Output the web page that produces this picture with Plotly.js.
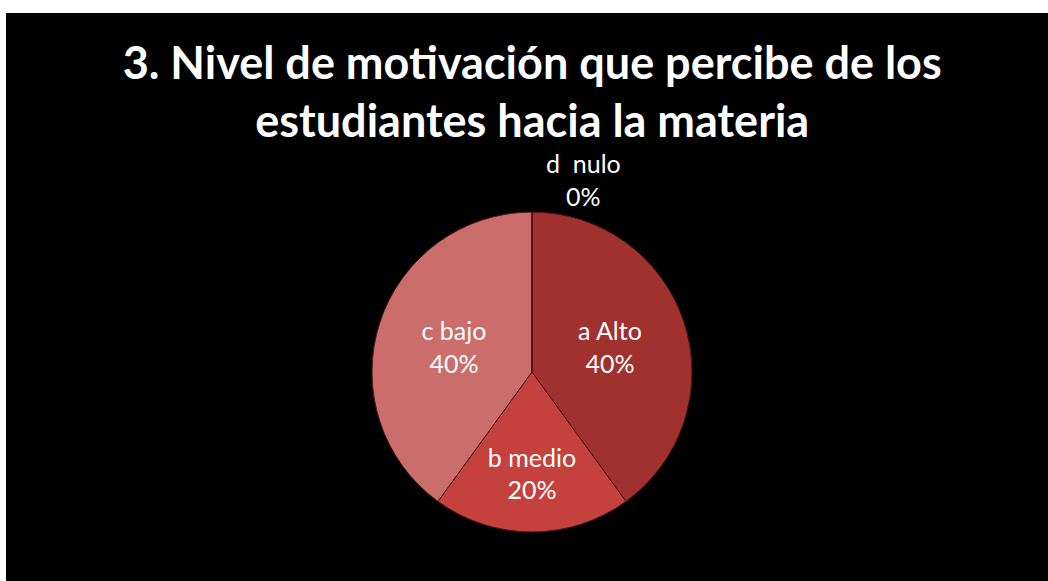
<!DOCTYPE html>
<html>
<head>
<meta charset="utf-8">
<script src="https://cdn.plot.ly/plotly-3.0.1.min.js"></script>
<style>
  html, body { margin: 0; padding: 0; background: #ffffff; width: 1048px; height: 581px; overflow: hidden; }
  #chart { position: absolute; left: 6px; top: 13px; width: 1042px; height: 568px; }
</style>
</head>
<body>
<div id="chart"></div>
<script>
const chartTitle = "3. Nivel de motivación que percibe de los<br>estudiantes hacia la materia";
const categories = ["a Alto", "b medio", "c bajo", "d  nulo"];
const values = [40, 20, 40, 0];
const sliceColors = ["#a0312e", "#c4413d", "#cb6d6b", "#d98a88"];
const textPositions = ["inside", "inside", "inside", "none"];

const total = values.reduce((a, b) => a + b, 0);
const labelFont = { family: "Lato, 'Open Sans', sans-serif", size: 25, color: "#ffffff" };

const trace = {
  type: "pie",
  labels: categories,
  values: values,
  sort: false,
  direction: "clockwise",
  rotation: 0,
  marker: { colors: sliceColors, line: { color: "#4a1414", width: 1 } },
  texttemplate: "%{label}<br>%{percent:.0%}",
  textposition: textPositions,
  insidetextorientation: "horizontal",
  textfont: labelFont,
  showlegend: false,
  hoverinfo: "label+percent",
  domain: { x: [0.3512, 0.6583], y: [0.0863, 0.6496] }
};

// the zero-value slice has no area, so its label sits above the pie as in the reference
const zeroAnnotations = categories
  .map((c, i) => ({ c, v: values[i] }))
  .filter(d => d.v === 0)
  .map(d => ({
    text: d.c + "<br>" + Math.round(100 * d.v / total) + "%",
    xref: "paper", yref: "paper",
    x: 0.5547, y: 0.706,
    xanchor: "center", yanchor: "middle",
    showarrow: false,
    font: labelFont
  }));

const layout = {
  width: 1042,
  height: 568,
  paper_bgcolor: "#000000",
  plot_bgcolor: "#000000",
  margin: { l: 0, r: 0, t: 0, b: 0 },
  title: {
    text: chartTitle,
    font: { family: "Lato, 'Open Sans', sans-serif", size: 45, color: "#ffffff", weight: 700 },
    x: 0.505, xanchor: "center",
    y: 0.884, yref: "container", yanchor: "top"
  },
  annotations: zeroAnnotations,
  showlegend: false
};

Plotly.newPlot("chart", [trace], layout, { displayModeBar: false, staticPlot: true });
</script>
</body>
</html>
